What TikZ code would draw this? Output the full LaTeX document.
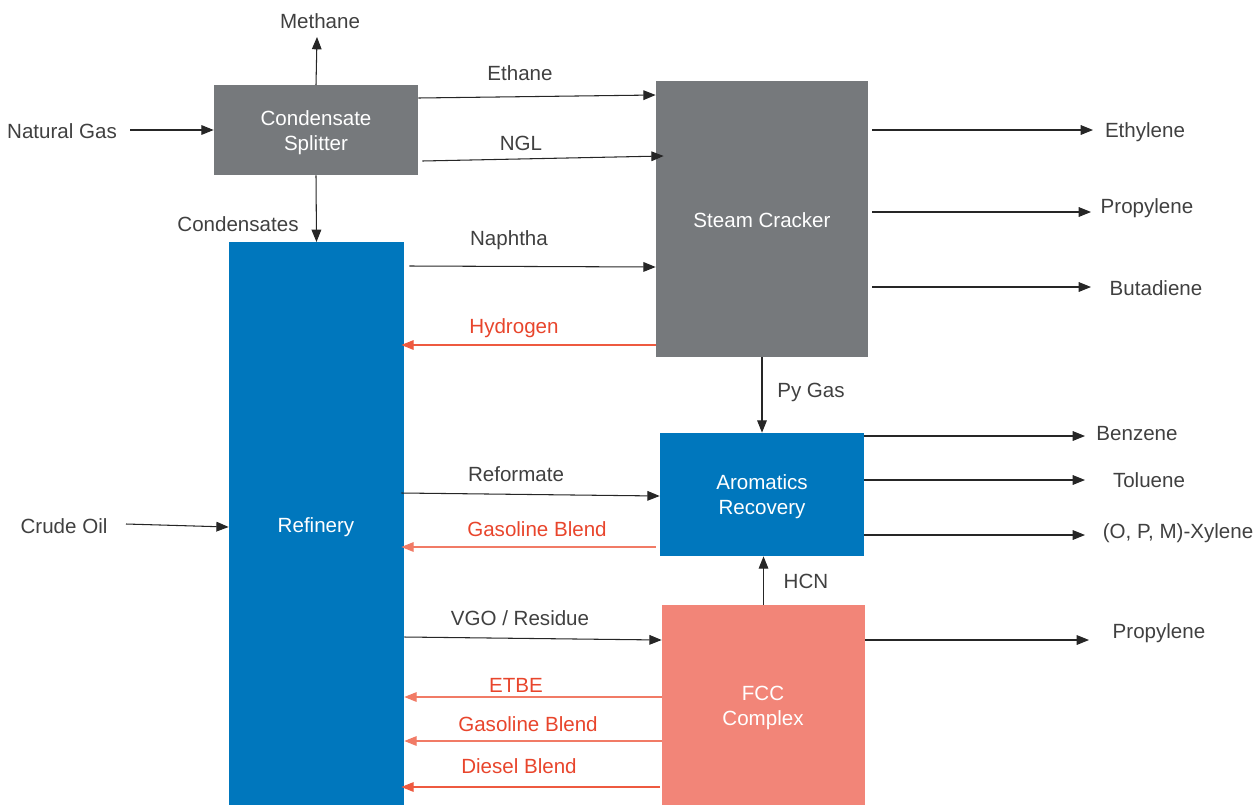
\documentclass[tikz,border=0pt]{standalone}
\usepackage{fontspec}
\setmainfont{Liberation Sans}
\usetikzlibrary{arrows.meta,calc}
\definecolor{boxgray}{HTML}{76797C}
\definecolor{boxblue}{HTML}{0077BD}
\definecolor{boxsalmon}{HTML}{F28578}
\definecolor{txt}{HTML}{404040}
\definecolor{redtxt}{HTML}{E8452C}
\definecolor{redline}{HTML}{EE5A40}
\begin{document}
\begin{tikzpicture}[x=0.02cm,y=-0.02cm,
  font=\fontsize{11.7}{14.2}\selectfont,
  unit/.style={draw=none,inner sep=0pt},
  utext/.style={text=white,align=center,inner sep=0pt},
  lbl/.style={text=txt,inner sep=0pt},
  rlbl/.style={text=redtxt,inner sep=0pt},
  arr/.style={line width=0.6pt,draw=black!85,-{Triangle[length=7pt,width=5.5pt]}},
  rarr/.style={line width=0.6pt,draw=redline,-{Triangle[length=7pt,width=5.5pt]}}]
\useasboundingbox (0,0) rectangle (1256,805);
% units
\node[unit,fill=boxgray,minimum width=4.08cm,minimum height=1.8cm] (split) at (316,130) {};
\node[unit,fill=boxgray,minimum width=4.24cm,minimum height=5.52cm] (crack) at (762,219) {};
\node[unit,fill=boxblue,minimum width=3.5cm,minimum height=11.26cm] (ref) at (316.5,523.5) {};
\node[unit,fill=boxblue,minimum width=4.08cm,minimum height=2.46cm] (arom) at (762,494.5) {};
\node[unit,fill=boxsalmon,minimum width=4.06cm,minimum height=4cm] (fcc) at (763.5,705) {};
\node[utext] (tsplit) at (316,132.5) {Condensate\\Splitter};
\node[utext] (tcrack) at (762,220) {Steam Cracker};
\node[utext] (tref) at (316,527) {Refinery};
\node[utext] (tarom) at (762,497) {Aromatics\\Recovery};
\node[utext] (tfcc) at (763,708) {FCC\\Complex};
% free ends
\coordinate (meth) at (317,37);
\coordinate (ng) at (130,130);
\coordinate (crude) at (126,524);
\coordinate (ethy) at (1093,130);
\coordinate (prop) at (1091,212);
\coordinate (buta) at (1091,287);
\coordinate (benz) at (1085,436);
\coordinate (tol) at (1085,480);
\coordinate (xyl) at (1085,535);
\coordinate (prop2) at (1089,640);
% left side
\draw[arr] (split.north |- 0,85) -- (meth);
\draw[arr] (ng) -- (split.west |- ng);
\draw[arr] (split.south) -- (ref.north |- 0,242);
\draw[arr] (crude) -- (ref.west |- 0,527);
% splitter -> cracker
\draw[arr] (split.east |- 0,98) -- (crack.west |- 0,95);
\draw[arr] ($(split.east |- 0,161)+(4,0)$) -- ($(crack.west |- 0,156)+(8,0)$);
% refinery <-> cracker
\draw[arr] ($(ref.east |- 0,266)+(5,0)$) -- (crack.west |- 0,267);
\draw[rarr] (crack.west |- 0,345) -- ($(ref.east |- 0,345)+(-3,0)$);
% cracker products
\draw[arr] ($(crack.east |- ethy)+(4,0)$) -- (ethy);
\draw[arr] ($(crack.east |- prop)+(4,0)$) -- (prop);
\draw[arr] ($(crack.east |- buta)+(4,0)$) -- (buta);
\draw[arr] (crack.south |- 0,357) -- (arom.north -| crack.south);
% aromatics
\draw[arr] ($(ref.east |- 0,493)+(-3,0)$) -- (arom.west |- 0,496);
\draw[rarr,draw=redline!80] ($(arom.west |- 0,547)+(-4,0)$) -- ($(ref.east |- 0,547)+(-3,0)$);
\draw[arr] (arom.east |- benz) -- (benz);
\draw[arr] (arom.east |- tol) -- (tol);
\draw[arr] (arom.east |- xyl) -- (xyl);
% FCC
\draw[arr] (ref.east |- 0,637) -- (fcc.west |- 0,640);
\draw[arr] (fcc.north) -- (arom.south -| fcc.north);
\draw[arr] (fcc.east |- prop2) -- (prop2);
\draw[rarr,draw=redline!80] (fcc.west |- 0,697) -- (ref.east |- 0,697);
\draw[rarr,draw=redline!80] (fcc.west |- 0,741) -- (ref.east |- 0,741);
\draw[rarr] ($(fcc.west |- 0,787)+(-2,0)$) -- ($(ref.east |- 0,787)+(-3,0)$);
% labels
\node[lbl] (lmeth) at (320,21) {Methane};
\node[lbl] (lng) at (62,131) {Natural Gas};
\node[lbl] (leth) at (520,73) {Ethane};
\node[lbl] (lngl) at (521,143) {NGL};
\node[lbl] (lcond) at (238,224) {Condensates};
\node[lbl] (lnaph) at (509,240) {Naphtha};
\node[rlbl] (lhyd) at (514,328) {Hydrogen};
\node[lbl] (lethy) at (1145,132) {Ethylene};
\node[lbl] (lprop) at (1147,208) {Propylene};
\node[lbl] (lbuta) at (1156,288) {Butadiene};
\node[lbl] (lpy) at (811,392) {Py Gas};
\node[lbl] (lbenz) at (1137,434) {Benzene};
\node[lbl] (ltol) at (1149,480) {Toluene};
\node[lbl] (lxyl) at (1178,533) {(O, P, M)-Xylene};
\node[lbl] (lhcn) at (806,581) {HCN};
\node[lbl] (lprop2) at (1159,633) {Propylene};
\node[lbl] (lcrude) at (64,526) {Crude Oil};
\node[lbl] (lref) at (516,474) {Reformate};
\node[rlbl] (lgas) at (537,529) {Gasoline Blend};
\node[lbl] (lvgo) at (520,618) {VGO / Residue};
\node[rlbl] (letbe) at (516,685) {ETBE};
\node[rlbl] (lgas2) at (528,724) {Gasoline Blend};
\node[rlbl] (ldies) at (519,766) {Diesel Blend};
\end{tikzpicture}
\end{document}
